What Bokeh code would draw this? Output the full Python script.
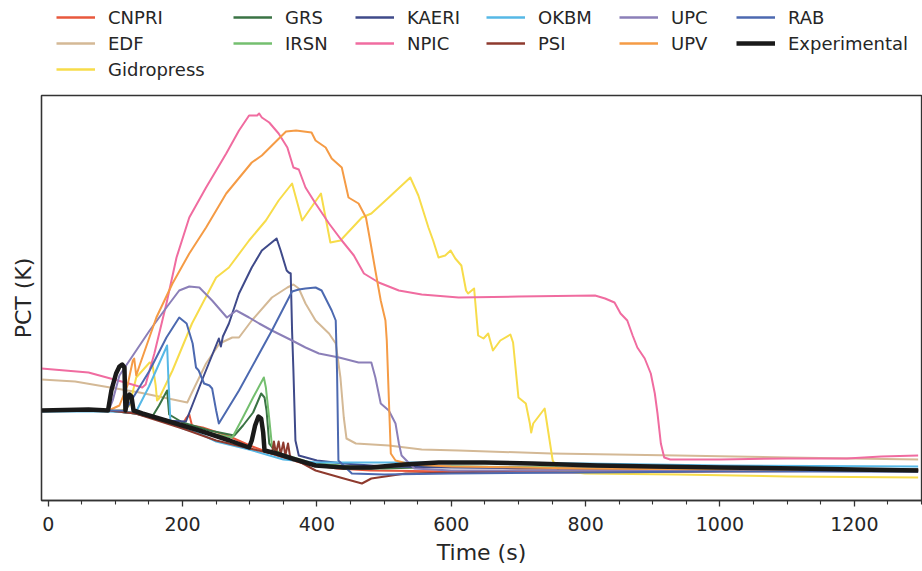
from bokeh.plotting import figure
from bokeh.models import Range1d, FixedTicker, Legend, LegendItem
from bokeh.layouts import column
from bokeh.embed import file_html
from bokeh.resources import INLINE

# time (s) and PCT (K), one pair of lists per code
t_cnpri = [-10, 90, 130, 180, 200, 205, 210, 214, 230, 270, 300, 340, 380, 430, 480, 600, 800, 1000, 1295]
pct_cnpri = [690, 690, 688, 680, 676, 682, 686, 675, 673, 664, 655, 645, 637, 632, 630, 629, 628, 629, 630]

t_edf = [-10, 40, 136, 207, 214, 235, 255, 274, 284, 303, 333, 356, 365, 373, 383, 398, 418, 428, 435, 440,
         444, 458, 507, 556, 611, 749, 937, 1100, 1295]
pct_edf = [721, 719, 708, 698, 708, 737, 757, 763, 763, 780, 803, 813, 816, 812, 797, 780, 767, 757, 723, 683,
           662, 657, 655, 651, 650, 647, 645, 643, 641]

t_gid = [-10, 60, 110, 121, 131, 151, 155, 160, 162, 165, 185, 214, 250, 269, 299, 324, 343, 363, 378, 406,
         420, 435, 467, 481, 507, 539, 551, 566, 573, 581, 591, 599, 606, 615, 622, 625, 634, 640, 648, 655,
         662, 673, 688, 692, 700, 711, 717, 719, 722, 739, 751, 760, 799, 937, 1100, 1295]
pct_gid = [690, 690, 690, 695, 723, 738, 737, 715, 700, 702, 730, 777, 823, 833, 860, 880, 900, 917, 880, 907,
           858, 860, 883, 887, 903, 923, 905, 873, 860, 843, 845, 850, 842, 835, 810, 807, 812, 765, 762, 767,
           750, 760, 766, 758, 703, 697, 677, 668, 677, 692, 640, 630, 627, 626, 624, 623]

t_grs = [-10, 90, 130, 155, 165, 177, 180, 200, 240, 277, 290, 305, 317, 322, 325, 329, 340, 380, 440, 500, 600, 800, 1000, 1295]
pct_grs = [690, 690, 687, 684, 695, 710, 686, 678, 670, 665, 675, 688, 707, 703, 690, 657, 648, 638, 632, 632, 634, 632, 631, 630]

t_irsn = [-10, 90, 130, 200, 250, 274, 289, 305, 321, 324, 329, 333, 345, 390, 450, 600, 800, 1000, 1295]
pct_irsn = [690, 690, 687, 675, 666, 663, 682, 703, 723, 713, 682, 655, 647, 638, 634, 634, 633, 632, 631]

t_kaeri = [-10, 90, 130, 170, 205, 230, 254, 257, 260, 269, 284, 303, 318, 329, 340, 346, 355, 358, 361, 363,
           365, 368, 373, 400, 440, 500, 600, 800, 1000, 1295]
pct_kaeri = [690, 690, 687, 680, 679, 722, 762, 754, 764, 777, 807, 833, 850, 856, 862, 850, 830, 828, 827, 770,
             730, 660, 645, 640, 637, 634, 633, 632, 631, 630]

t_npic = [-10, 60, 120, 140, 145, 158, 176, 191, 210, 235, 265, 284, 299, 311, 314, 318, 329, 343, 356, 365,
          373, 383, 398, 418, 437, 455, 470, 492, 522, 556, 611, 700, 814, 829, 843, 852, 862, 870, 877, 888,
          897, 903, 907, 912, 917, 926, 1000, 1100, 1189, 1240, 1295]
pct_npic = [732, 728, 717, 713, 716, 747, 797, 843, 883, 913, 947, 970, 985, 985, 987, 983, 978, 967, 953, 933,
            931, 913, 897, 877, 860, 845, 827, 818, 810, 806, 803, 804, 805, 802, 798, 787, 780, 765, 753, 742,
            727, 707, 687, 657, 643, 641, 641, 642, 642, 644, 645]

t_okbm = [-10, 90, 125, 131, 150, 177, 179, 182, 200, 225, 250, 299, 350, 400, 450, 600, 800, 1000, 1295]
pct_okbm = [689, 689, 688, 689, 714, 755, 720, 678, 672, 667, 659, 651, 641, 638, 638, 638, 637, 635, 634]

t_psi = [-10, 90, 130, 200, 250, 300, 320, 333, 336, 339, 343, 346, 350, 353, 357, 360, 398, 440, 467, 481,
         532, 611, 700, 800, 1000, 1295]
pct_psi = [690, 690, 687, 672, 660, 652, 649, 647, 659, 647, 659, 646, 658, 645, 657, 644, 630, 622, 617, 622,
           627, 628, 630, 630, 631, 631]

t_upc = [-10, 90, 96, 106, 121, 151, 176, 195, 210, 225, 244, 266, 280, 299, 314, 333, 363, 383, 403, 433,
         462, 481, 487, 495, 507, 517, 522, 526, 545, 600, 800, 1000, 1295]
pct_upc = [690, 690, 700, 725, 740, 770, 793, 810, 814, 813, 800, 783, 790, 783, 777, 770, 760, 753, 747, 743,
           738, 738, 723, 697, 690, 677, 657, 645, 632, 630, 630, 630, 629]

t_upv = [-10, 90, 106, 118, 126, 128, 131, 136, 161, 185, 210, 235, 265, 303, 318, 354, 369, 392, 398, 413,
         422, 437, 447, 462, 473, 480, 487, 495, 502, 504, 507, 510, 517, 540, 600, 800, 1000, 1295]
pct_upv = [690, 690, 695, 715, 740, 742, 725, 735, 783, 817, 847, 873, 907, 938, 945, 969, 970, 968, 960, 953,
           942, 933, 903, 897, 883, 857, 830, 800, 780, 760, 703, 647, 640, 636, 634, 632, 631, 630]

t_rab = [-10, 90, 115, 121, 151, 176, 195, 206, 215, 220, 224, 232, 240, 244, 250, 254, 284, 333, 363, 373,
         383, 398, 407, 422, 428, 430, 432, 452, 500, 600, 800, 1000, 1295]
pct_rab = [690, 690, 690, 697, 730, 763, 783, 777, 757, 733, 730, 717, 715, 712, 690, 677, 710, 770, 809, 811,
           812, 813, 810, 790, 780, 727, 640, 627, 626, 627, 628, 629, 629]

t_exp = [-10, 60, 89, 94, 101, 106, 110, 113.5, 115, 118, 121, 124, 127, 140, 180, 225, 270, 299, 303, 308,
         313, 317, 320, 322, 340, 363, 398, 440, 481, 530, 581, 650, 720, 818, 900, 1000, 1115, 1200, 1295]
pct_exp = [690, 691, 690, 710, 727, 734, 736, 733, 690, 702, 706, 704, 690, 687, 679, 670, 660, 653, 660, 675,
           684, 682, 668, 650, 647, 642, 635, 633, 633, 636, 638, 638, 637, 635, 634, 633, 632, 631, 630]

codes = ["CNPRI", "EDF", "Gidropress", "GRS", "IRSN", "KAERI", "NPIC", "OKBM", "PSI", "UPC", "UPV", "RAB", "Experimental"]
times = [t_cnpri, t_edf, t_gid, t_grs, t_irsn, t_kaeri, t_npic, t_okbm, t_psi, t_upc, t_upv, t_rab, t_exp]
pcts = [pct_cnpri, pct_edf, pct_gid, pct_grs, pct_irsn, pct_kaeri, pct_npic, pct_okbm, pct_psi, pct_upc, pct_upv, pct_rab, pct_exp]
colors = ["#e8583d", "#d4b996", "#f7dc4a", "#3a7344", "#74bf6f", "#3f4a8a", "#f06ca0",
          "#56b8e6", "#8e3a2e", "#8b7fb8", "#f59b45", "#4c69b0", "#1a1a1a"]

x_ticks = [0, 200, 400, 600, 800, 1000, 1200]
x_minor = [50, 100, 150, 250, 300, 350, 450, 500, 550, 650, 700, 750, 850, 900, 950, 1050, 1100, 1150, 1250, 1300]

# legend columns as laid out in the reference
legend_cols = [["CNPRI", "EDF", "Gidropress"], ["GRS", "IRSN"], ["KAERI", "NPIC"],
               ["OKBM", "PSI"], ["UPC", "UPV"], ["RAB", "Experimental"]]
legend_x = [56, 233, 355, 486, 619, 736]

ink = "#262626"
spine = "#333333"
font = "DejaVu Sans"

def line_width(name):
    return 4.5 if name == "Experimental" else 2

# main plot
p = figure(width=922, height=478, x_range=Range1d(-10, 1300), y_range=Range1d(600, 1005),
           output_backend="svg", toolbar_location=None,
           min_border_left=41, min_border_right=1, min_border_top=2, min_border_bottom=71,
           x_axis_label="Time (s)", y_axis_label="PCT (K)")

p.xgrid.grid_line_color = None
p.ygrid.grid_line_color = None
p.outline_line_color = spine
p.outline_line_width = 1.3

p.xaxis.ticker = FixedTicker(ticks=x_ticks, minor_ticks=x_minor)
p.xaxis.axis_line_color = spine
p.xaxis.axis_line_width = 1.3
p.xaxis.major_tick_line_color = spine
p.xaxis.minor_tick_line_color = spine
p.xaxis.major_tick_line_width = 1.3
p.xaxis.minor_tick_line_width = 1.1
p.xaxis.major_tick_in = 0
p.xaxis.major_tick_out = 6
p.xaxis.minor_tick_in = 0
p.xaxis.minor_tick_out = 4
p.xaxis.major_label_standoff = 10
p.xaxis.axis_label_standoff = 6

p.yaxis.ticker = FixedTicker(ticks=[])
p.yaxis.major_tick_out = 0
p.yaxis.major_tick_in = 0
p.yaxis.minor_tick_out = 0
p.yaxis.minor_tick_in = 0
p.yaxis.axis_line_color = spine
p.yaxis.axis_line_width = 1.3
p.yaxis.axis_label_standoff = 6

for ax in (p.xaxis, p.yaxis):
    ax.major_label_text_font = font
    ax.major_label_text_font_size = "19px"
    ax.major_label_text_color = ink
    ax.axis_label_text_font = font
    ax.axis_label_text_font_size = "22px"
    ax.axis_label_text_font_style = "normal"
    ax.axis_label_text_color = ink

for name, t, y, c in zip(codes, times, pcts, colors):
    p.line(t, y, line_color=c, line_width=line_width(name), line_join="round")

# legend strip above the plot: same series, kept out of its (empty) view
leg_fig = figure(width=922, height=93, x_range=Range1d(0, 1), y_range=Range1d(0, 1),
                 output_backend="svg", toolbar_location=None,
                 x_axis_location=None, y_axis_location=None,
                 min_border_left=0, min_border_right=0, min_border_top=0, min_border_bottom=0)
leg_fig.xgrid.grid_line_color = None
leg_fig.ygrid.grid_line_color = None
leg_fig.outline_line_color = None

keys = {}
for name, t, y, c in zip(codes, times, pcts, colors):
    lw = 4.5 if name == "Experimental" else 2.7
    keys[name] = leg_fig.line(t, y, line_color=c, line_width=lw)

frame_left = 41  # the column layout lines this frame up with the plot's frame
for col, lx in zip(legend_cols, legend_x):
    n = len(col)
    h = n * 21 + (n - 1) * 5
    leg = Legend(items=[LegendItem(label=nm, renderers=[keys[nm]]) for nm in col],
                 location=(lx - frame_left, 93 - 6.5 - h), orientation="vertical",
                 padding=0, margin=0, spacing=5, glyph_width=39, glyph_height=20,
                 label_height=20, label_standoff=13, border_line_color=None,
                 background_fill_alpha=0, label_text_font=font,
                 label_text_font_size="18px", label_text_color=ink)
    leg_fig.add_layout(leg)

layout = column(leg_fig, p, spacing=0)

open("out.html", "w").write(file_html(layout, INLINE))
